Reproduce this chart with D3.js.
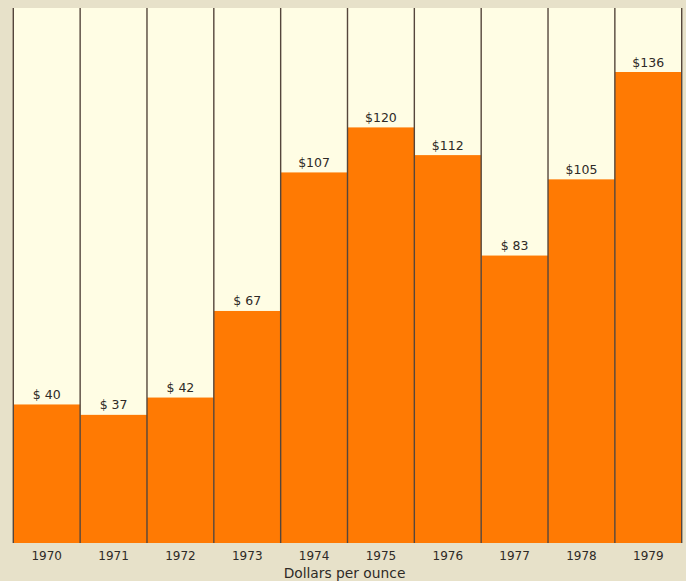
<!DOCTYPE html>
<html><head><meta charset="utf-8">
<script src="https://cdn.jsdelivr.net/npm/d3@7"></script>
<style>body{margin:0;background:#e7e1c9;}svg{display:block;}</style>
</head><body>
<script>
const years = ["1970","1971","1972","1973","1974","1975","1976","1977","1978","1979"];
const prices = [40,37,42,67,107,120,112,83,105,136];
const labels = ["$ 40","$ 37","$ 42","$ 67","$107","$120","$112","$ 83","$105","$136"];
const axisTitle = "Dollars per ounce";

(function(){
const W=686,H=581;
const FONT="DejaVu Sans, Verdana, sans-serif";
const svg=d3.select("body").append("svg").attr("width",W).attr("height",H);
svg.append("rect").attr("width",W).attr("height",H).attr("fill","#e7e1c9");
const pL=13.3,pR=681.7,pT=8,pB=543;
const x=d3.scaleBand().domain(years).range([pL,pR]).padding(0);
const y=d3.scaleLinear().domain([0,136]).range([pB,72]);

svg.append("rect").attr("x",pL).attr("y",pT).attr("width",pR-pL).attr("height",pB-pT).attr("fill","#fffde4");
svg.selectAll("rect.bar").data(years).join("rect").attr("class","bar")
  .attr("x",d=>x(d)).attr("width",x.bandwidth())
  .attr("y",(d,i)=>y(prices[i])).attr("height",(d,i)=>pB-y(prices[i]))
  .attr("fill","#ff7a03");
const edges=years.map(d=>x(d)).concat([pR]);
svg.selectAll("line.div").data(edges).join("line").attr("class","div")
  .attr("x1",d=>d).attr("x2",d=>d).attr("y1",pT).attr("y2",pB)
  .attr("stroke","#55463c").attr("stroke-width",1.4);
svg.selectAll("text.val").data(years).join("text").attr("class","val")
  .attr("x",d=>x(d)+x.bandwidth()/2).attr("y",(d,i)=>y(prices[i])-5.5)
  .attr("text-anchor","middle").attr("font-family",FONT)
  .attr("font-size",12.5).attr("fill","#2e2a26").text((d,i)=>labels[i]);
const ax=svg.append("g").attr("transform",`translate(0,${pB})`)
  .call(d3.axisBottom(x).tickSize(0).tickPadding(8));
ax.select(".domain").remove();
ax.selectAll("text").attr("font-family",FONT).attr("font-size",12).attr("fill","#2e2a26");
svg.append("text").attr("x",(pL+pR)/2-3).attr("y",578).attr("text-anchor","middle")
  .attr("font-family",FONT).attr("font-size",13.8).attr("fill","#2e2a26").text(axisTitle);
})();
</script>
</body></html>
